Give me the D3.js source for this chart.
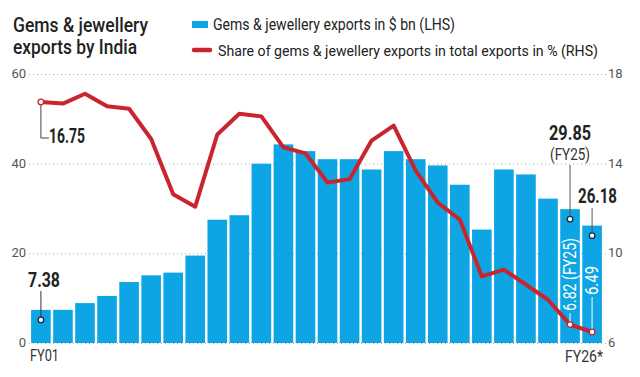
<!DOCTYPE html>
<html lang="en">
  <head>
    <meta charset="UTF-8" />
    <title>Gems & jewellery exports by India</title>
    <style>
      body { margin: 0; background: #fff; }
      svg { font-family: Roboto, sans-serif; }
      .grid line { stroke: #aaa; stroke-width: 1; stroke-dasharray: 1 3; }
      .tick-label { fill: #555; font-size: 13px; }
    </style>
  </head>
  <body>
    <div id="container"></div>
    <script src="https://cdnjs.cloudflare.com/ajax/libs/d3/7.8.5/d3.min.js"></script>
    <script>
      let years = ["FY01","FY02","FY03","FY04","FY05","FY06","FY07","FY08","FY09","FY10",
        "FY11","FY12","FY13","FY14","FY15","FY16","FY17","FY18","FY19","FY20",
        "FY21","FY22","FY23","FY24","FY25","FY26"];
      // exports in $ bn (LHS)
      let exportsBn = [7.38, 7.4, 8.9, 10.5, 13.6, 15.1, 15.7, 19.5, 27.5, 28.5,
        40.0, 44.3, 42.8, 41.0, 41.0, 38.7, 42.8, 41.0, 39.6, 35.3,
        25.3, 38.7, 37.6, 32.2, 29.85, 26.18];
      // share in total exports in % (RHS)
      let sharePct = [16.75, 16.68, 17.12, 16.56, 16.45, 15.1, 12.64, 12.08, 15.3, 16.23,
        16.11, 14.73, 14.46, 13.16, 13.31, 15.03, 15.7, 13.69, 12.26, 11.51,
        8.97, 9.27, 8.6, 7.93, 6.82, 6.49];
      let leftTicks = [0, 20, 40, 60];
      let rightTicks = [6, 10, 14, 18];

      let width = 640, height = 377;
      let blue = "#0ea5e4", red = "#c9252f", ink = "#222";

      let svg = d3.select("#container").append("svg")
        .attr("width", width).attr("height", height);

      let x = d3.scaleBand().domain(years).range([30, 603])
        .paddingInner(0.11).paddingOuter(0.05);
      let yL = d3.scaleLinear().domain([0, 60]).range([343, 74]);
      let yR = d3.scaleLinear().domain([6, 18]).range([343, 74]);
      let cx = (i) => x(years[i]) + x.bandwidth() / 2;

      // fixed-width text (the original uses a condensed face)
      function label(g, tx, ty, txt, size, weight, len, anchor) {
        return g.append("text").attr("x", tx).attr("y", ty).attr("fill", ink)
          .attr("text-anchor", anchor || "start")
          .style("font-size", size + "px").style("font-weight", weight)
          .attr("textLength", len).attr("lengthAdjust", "spacingAndGlyphs")
          .text(txt);
      }

      // title
      label(svg, 13, 32, "Gems & jewellery", 20, 500, 135);
      label(svg, 13, 54, "exports by India", 20, 500, 124);

      // legend
      svg.append("rect").attr("x", 192).attr("y", 21).attr("width", 16).attr("height", 7).attr("fill", blue);
      label(svg, 213, 30, "Gems & jewellery exports in $ bn (LHS)", 16, 400, 242);
      svg.append("line").attr("x1", 194).attr("x2", 210).attr("y1", 50).attr("y2", 50)
        .attr("stroke", red).attr("stroke-width", 4.5).attr("stroke-linecap", "round");
      label(svg, 218, 56, "Share of gems & jewellery exports in total exports in % (RHS)", 15, 400, 380);

      // gridlines + tick labels
      let grid = svg.append("g").attr("class", "grid");
      grid.selectAll("line").data(leftTicks).join("line")
        .attr("x1", 29).attr("x2", 606)
        .attr("y1", (d) => yL(d) + 0.5).attr("y2", (d) => yL(d) + 0.5);
      svg.append("g").selectAll("text").data(leftTicks).join("text")
        .attr("class", "tick-label").attr("x", 26).attr("y", (d) => yL(d) + 4)
        .attr("text-anchor", "end").text((d) => d);
      svg.append("g").selectAll("text").data(rightTicks).join("text")
        .attr("class", "tick-label").attr("x", 608).attr("y", (d) => yR(d) + 4)
        .text((d) => d);

      // bars
      svg.append("g").selectAll("rect").data(exportsBn).join("rect")
        .attr("x", (d, i) => x(years[i]))
        .attr("y", (d) => yL(d))
        .attr("width", x.bandwidth())
        .attr("height", (d) => yL(0) - yL(d))
        .attr("fill", blue);

      // line
      let line = d3.line().x((d, i) => cx(i)).y((d) => yR(d));
      svg.append("path").datum(sharePct).attr("d", line)
        .attr("fill", "none").attr("stroke", red).attr("stroke-width", 4)
        .attr("stroke-linejoin", "round");

      // x labels
      label(svg, 30, 361, years[0], 16, 400, 29).attr("fill", "#333");
      label(svg, 603, 362, years[25] + "*", 16, 400, 38, "end").attr("fill", "#333");

      // annotations
      let ann = svg.append("g");
      let n = years.length;
      // 16.75 on line start
      ann.append("path")
        .attr("d", `M${cx(0)},${yR(sharePct[0])}V${yR(sharePct[0]) + 36}H${cx(0) + 8}`)
        .attr("fill", "none").attr("stroke", "#444").attr("stroke-width", 1);
      label(ann, cx(0) + 8, yR(sharePct[0]) + 41, sharePct[0], 20, 700, 36);
      // 7.38 on first bar
      ann.append("line").attr("x1", cx(0)).attr("x2", cx(0))
        .attr("y1", yL(exportsBn[0]) - 19).attr("y2", yL(exportsBn[0]) + 12)
        .attr("stroke", "#333").attr("stroke-width", 1);
      label(ann, 28, yL(exportsBn[0]) - 23, exportsBn[0], 20, 700, 32);
      // FY25 bar label
      let i25 = n - 2, i26 = n - 1;
      ann.append("line").attr("x1", cx(i25)).attr("x2", cx(i25))
        .attr("y1", 165).attr("y2", yL(exportsBn[i25]) + 9)
        .attr("stroke", "#555").attr("stroke-width", 1);
      label(ann, cx(i25), 140, exportsBn[i25], 20, 700, 42, "middle");
      label(ann, cx(i25), 160, "(FY25)", 16, 400, 40, "middle").attr("fill", "#333");
      // FY26 bar label
      ann.append("line").attr("x1", cx(i26)).attr("x2", cx(i26))
        .attr("y1", 208).attr("y2", yL(exportsBn[i26]) + 9)
        .attr("stroke", "#555").attr("stroke-width", 1);
      label(ann, 578, 203, exportsBn[i26], 20, 700, 39);
      // bar circles
      ann.selectAll("circle.bar").data([0, i25, i26]).join("circle").attr("class", "bar")
        .attr("cx", (i) => cx(i)).attr("cy", (i) => yL(exportsBn[i]) + 10)
        .attr("r", 2.8).attr("fill", "#fff").attr("stroke", "#1a2a44").attr("stroke-width", 1.3);

      // rotated share labels inside last bars
      ann.append("line").attr("x1", cx(i25)).attr("x2", cx(i25))
        .attr("y1", 313).attr("y2", yR(sharePct[i25]))
        .attr("stroke", "#fff").attr("stroke-width", 1);
      ann.append("text").attr("transform", `translate(${cx(i25) + 6},311) rotate(-90)`)
        .attr("fill", "#fff").style("font-size", "18px")
        .attr("textLength", 73).attr("lengthAdjust", "spacingAndGlyphs")
        .text(sharePct[i25] + " (FY25)");
      ann.append("line").attr("x1", cx(i26)).attr("x2", cx(i26))
        .attr("y1", 297).attr("y2", yR(sharePct[i26]))
        .attr("stroke", "#fff").attr("stroke-width", 1);
      ann.append("text").attr("transform", `translate(${cx(i26) + 6},295) rotate(-90)`)
        .attr("fill", "#fff").style("font-size", "18px")
        .attr("textLength", 29).attr("lengthAdjust", "spacingAndGlyphs")
        .text(sharePct[i26]);

      // line circles
      ann.selectAll("circle.pt").data([0, i25, i26]).join("circle").attr("class", "pt")
        .attr("cx", (i) => cx(i)).attr("cy", (i) => yR(sharePct[i]))
        .attr("r", 2.8).attr("fill", "#fff").attr("stroke", red).attr("stroke-width", 1.3);
    </script>
  </body>
</html>
